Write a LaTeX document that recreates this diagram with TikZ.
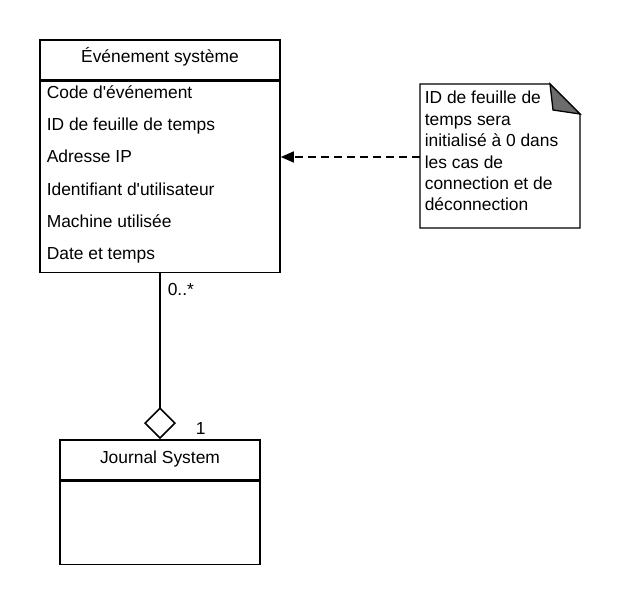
\documentclass[tikz,border=0pt]{standalone}
\usepackage{fontspec}
\setmainfont{Liberation Sans}
\usetikzlibrary{arrows.meta,positioning}
\tikzset{>=stealth,
  umlbox/.style={draw,line width=1.6pt,minimum width=240pt,inner sep=0pt},
  attr/.style={anchor=base west,inner sep=0pt},
  mult/.style={anchor=base west,inner sep=0pt}}

\begin{document}
\begin{tikzpicture}[x=1pt,y=-1pt,line width=1.6pt,font=\fontsize{17.4}{21.4}\selectfont]
                \useasboundingbox (0,0) rectangle (620,604);
                % classe evenement
                \node[umlbox,minimum height=40pt] (evt) at (160,60) {};
                \node[umlbox,minimum height=191pt,below=0pt of evt] (evtbody) {};
                \node[anchor=base,inner sep=0pt] (evttitle) at (160,63) {Événement système};
                \foreach \y/\txt [count=\i] in {99/Code d\textquotesingle événement,131/ID de feuille de temps,
                    163/Adresse IP,195/Identifiant d\textquotesingle utilisateur,227/Machine utilisée,259/Date et temps}
                    \node[attr] (attr\i) at (46,\y) {\txt};
                % classe journal
                \node[umlbox,minimum width=200pt,minimum height=40pt] (jrn) at (160,460) {};
                \node[umlbox,minimum width=200pt,minimum height=83pt,below=0pt of jrn] (jrnbody) {};
                \node[anchor=base,inner sep=0pt] (jrntitle) at (160,463) {Journal System};
                % note
                \coordinate (n1) at (420,84);
                \coordinate (n2) at (550,84);
                \coordinate (n3) at (580,114);
                \coordinate (n4) at (580,228);
                \coordinate (n5) at (420,228);
                \draw[fill=white,line width=1.3pt] (n1) -- (n2) -- (n3) -- (n4) -- (n5) -- cycle;
                \draw[fill=gray!85!black,line width=1.3pt] (n2) -- (n3) -- (553,110) -- cycle;
                \node[anchor=north west,inner sep=0pt,align=left] (note) at (424,90.5)
                    {ID de feuille de\\temps sera\\initialisé à 0 dans\\les cas de\\connection et de\\déconnection};
                \coordinate (nw) at (420,157);
                \draw[dash pattern=on 8pt off 5pt,-{Triangle[length=13pt,width=11pt]}] (nw) -- (evtbody.east |- nw);
                % aggregation
                \draw[-{Diamond[open,length=32pt,width=32pt]}] (evtbody.south) -- (jrn.north);
                \node[mult] (m1) at (167,295) {0..*};
                \node[mult] (m2) at (195,434) {1};
    \end{tikzpicture}
\end{document}
